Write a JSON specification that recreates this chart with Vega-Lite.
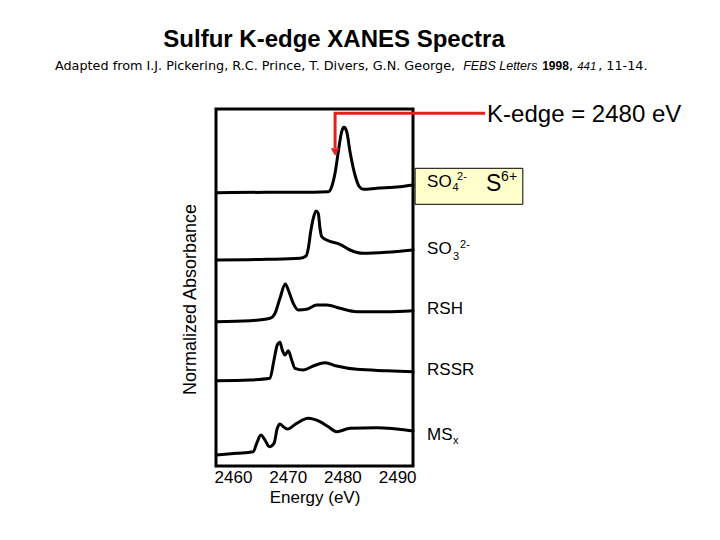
{
  "$schema": "https://vega.github.io/schema/vega-lite/v6.json",
  "width": 197,
  "height": 357,
  "autosize": {"type": "none"},
  "padding": {"left": 216, "top": 109, "right": 307, "bottom": 74},
  "background": "white",
  "config": {
    "font": "Liberation Sans",
    "view": {"stroke": "black", "strokeWidth": 3},
    "text": {"font": "Liberation Sans", "color": "black"}
  },
  "datasets": {
    "spectra": [
      {"s": "SO4", "E": 2456.95, "A": 5.486}, {"s": "SO4", "E": 2466.16, "A": 5.494}, {"s": "SO4", "E": 2472.25, "A": 5.494}, {"s": "SO4", "E": 2477.42, "A": 5.506}, {"s": "SO4", "E": 2478.04, "A": 5.606}, {"s": "SO4", "E": 2478.65, "A": 5.874}, {"s": "SO4", "E": 2479.25, "A": 6.306}, {"s": "SO4", "E": 2479.87, "A": 6.706}, {"s": "SO4", "E": 2480.29, "A": 6.794}, {"s": "SO4", "E": 2480.79, "A": 6.706}, {"s": "SO4", "E": 2481.39, "A": 6.306}, {"s": "SO4", "E": 2482.3, "A": 5.84}, {"s": "SO4", "E": 2483.09, "A": 5.606}, {"s": "SO4", "E": 2483.82, "A": 5.554}, {"s": "SO4", "E": 2486.27, "A": 5.574}, {"s": "SO4", "E": 2490.53, "A": 5.606}, {"s": "SO4", "E": 2492.9, "A": 5.64},
      {"s": "SO3", "E": 2456.95, "A": 4.14}, {"s": "SO3", "E": 2466.16, "A": 4.154}, {"s": "SO3", "E": 2472.25, "A": 4.174}, {"s": "SO3", "E": 2473.35, "A": 4.22}, {"s": "SO3", "E": 2473.77, "A": 4.374}, {"s": "SO3", "E": 2474.2, "A": 4.706}, {"s": "SO3", "E": 2474.68, "A": 4.974}, {"s": "SO3", "E": 2475.17, "A": 5.12}, {"s": "SO3", "E": 2475.59, "A": 5.074}, {"s": "SO3", "E": 2475.9, "A": 4.774}, {"s": "SO3", "E": 2476.22, "A": 4.606}, {"s": "SO3", "E": 2477.13, "A": 4.54}, {"s": "SO3", "E": 2479.56, "A": 4.454}, {"s": "SO3", "E": 2481.39, "A": 4.34}, {"s": "SO3", "E": 2483.82, "A": 4.274}, {"s": "SO3", "E": 2488.1, "A": 4.294}, {"s": "SO3", "E": 2492.9, "A": 4.34},
      {"s": "RSH", "E": 2456.95, "A": 2.906}, {"s": "RSH", "E": 2463.11, "A": 2.926}, {"s": "RSH", "E": 2466.76, "A": 2.974}, {"s": "RSH", "E": 2467.68, "A": 3.074}, {"s": "RSH", "E": 2468.59, "A": 3.374}, {"s": "RSH", "E": 2469.56, "A": 3.66}, {"s": "RSH", "E": 2470.11, "A": 3.54}, {"s": "RSH", "E": 2471.02, "A": 3.274}, {"s": "RSH", "E": 2471.94, "A": 3.14}, {"s": "RSH", "E": 2473.47, "A": 3.154}, {"s": "RSH", "E": 2475.3, "A": 3.24}, {"s": "RSH", "E": 2477.13, "A": 3.24}, {"s": "RSH", "E": 2479.56, "A": 3.174}, {"s": "RSH", "E": 2482.61, "A": 3.106}, {"s": "RSH", "E": 2488.1, "A": 3.106}, {"s": "RSH", "E": 2492.9, "A": 3.126},
      {"s": "RSSR", "E": 2456.95, "A": 1.726}, {"s": "RSSR", "E": 2463.11, "A": 1.74}, {"s": "RSSR", "E": 2466.76, "A": 1.774}, {"s": "RSSR", "E": 2467.5, "A": 2.14}, {"s": "RSSR", "E": 2468.1, "A": 2.44}, {"s": "RSSR", "E": 2468.59, "A": 2.494}, {"s": "RSSR", "E": 2469.01, "A": 2.34}, {"s": "RSSR", "E": 2469.51, "A": 2.24}, {"s": "RSSR", "E": 2470.11, "A": 2.326}, {"s": "RSSR", "E": 2470.73, "A": 2.14}, {"s": "RSSR", "E": 2471.33, "A": 1.974}, {"s": "RSSR", "E": 2472.85, "A": 1.94}, {"s": "RSSR", "E": 2474.68, "A": 2.02}, {"s": "RSSR", "E": 2476.82, "A": 2.086}, {"s": "RSSR", "E": 2478.96, "A": 2.02}, {"s": "RSSR", "E": 2482.61, "A": 1.954}, {"s": "RSSR", "E": 2488.1, "A": 1.926}, {"s": "RSSR", "E": 2492.9, "A": 1.906},
      {"s": "MSx", "E": 2456.95, "A": 0.24}, {"s": "MSx", "E": 2460.68, "A": 0.274}, {"s": "MSx", "E": 2463.71, "A": 0.306}, {"s": "MSx", "E": 2464.33, "A": 0.474}, {"s": "MSx", "E": 2465.12, "A": 0.64}, {"s": "MSx", "E": 2465.85, "A": 0.54}, {"s": "MSx", "E": 2466.64, "A": 0.406}, {"s": "MSx", "E": 2467.5, "A": 0.474}, {"s": "MSx", "E": 2468.1, "A": 0.774}, {"s": "MSx", "E": 2468.59, "A": 0.86}, {"s": "MSx", "E": 2469.2, "A": 0.806}, {"s": "MSx", "E": 2469.93, "A": 0.76}, {"s": "MSx", "E": 2471.65, "A": 0.874}, {"s": "MSx", "E": 2473.77, "A": 0.974}, {"s": "MSx", "E": 2475.9, "A": 0.906}, {"s": "MSx", "E": 2477.42, "A": 0.806}, {"s": "MSx", "E": 2478.96, "A": 0.706}, {"s": "MSx", "E": 2481.39, "A": 0.774}, {"s": "MSx", "E": 2486.27, "A": 0.786}, {"s": "MSx", "E": 2492.9, "A": 0.72}
    ],
    "box": [{"E": 2493.28, "E2": 2512.97, "A": 5.974, "A2": 5.254}],
    "arrow": [{"i": 0, "E": 2506.08, "A": 7.074}, {"i": 1, "E": 2478.66, "A": 7.074}, {"i": 2, "E": 2478.66, "A": 6.38}],
    "arrowhead": [{"E": 2478.66, "A": 6.3}],
    "title": [{"t": "Sulfur K-edge XANES Spectra", "E": 2478.47, "A": 8.406}],
    "subNormal": [
      {"t": "Adapted from I.J. Pickering, R.C. Prince, T. Divers, G.N. George,", "E": 2427.47, "A": 7.94},
      {"t": ",", "E": 2521.43, "A": 7.94},
      {"t": ", 11-14.", "E": 2526.74, "A": 7.94}
    ],
    "subItalic": [
      {"t": "FEBS Letters", "E": 2502.06, "A": 7.94}
    ],
    "subItalicNum": [
      {"t": "441", "E": 2522.9, "A": 7.94}
    ],
    "subBold": [{"t": "1998", "E": 2516.5, "A": 7.94}],
    "labels": [
      {"t": "SO", "E": 2495.47, "A": 5.7},
      {"t": "SO", "E": 2495.47, "A": 4.36},
      {"t": "RSH", "E": 2495.47, "A": 3.16},
      {"t": "RSSR", "E": 2495.47, "A": 1.95},
      {"t": "MS", "E": 2495.47, "A": 0.65}
    ],
    "scripts": [
      {"t": "4", "E": 2500.14, "A": 5.58},
      {"t": "2-", "E": 2500.96, "A": 5.806},
      {"t": "3", "E": 2500.23, "A": 4.2},
      {"t": "2-", "E": 2501.51, "A": 4.44},
      {"t": "x", "E": 2500.23, "A": 0.52}
    ],
    "bigS": [{"t": "S", "E": 2506.26, "A": 5.66}],
    "ox": [{"t": "6+", "E": 2509.0, "A": 5.806}],
    "kedge": [{"t": "K-edge = 2480 eV", "E": 2506.44, "A": 7.04}]
  },
  "layer": [
    {
      "data": {"name": "box"},
      "mark": {"type": "rect", "fill": "#ffffcc", "stroke": "black", "strokeWidth": 1},
      "encoding": {
        "x": {"field": "E", "type": "quantitative"},
        "x2": {"field": "E2"},
        "y": {"field": "A", "type": "quantitative"},
        "y2": {"field": "A2"}
      }
    },
    {
      "data": {"name": "spectra"},
      "mark": {"type": "line", "color": "black", "strokeWidth": 3, "interpolate": "monotone", "strokeCap": "round", "strokeJoin": "round"},
      "encoding": {
        "x": {
          "field": "E", "type": "quantitative",
          "scale": {"domain": [2456.9, 2492.9], "nice": false, "zero": false},
          "axis": {
            "title": "Energy (eV)", "values": [2460, 2470, 2480, 2490], "format": "d", "ticks": false, "domain": false, "grid": false,
            "labelFontSize": 17, "labelColor": "black", "labelPadding": 3, "labelFlush": false,
            "titleFontSize": 17, "titleFontWeight": "normal", "titleColor": "black", "titlePadding": 4
          }
        },
        "y": {
          "field": "A", "type": "quantitative",
          "scale": {"domain": [0.02, 7.16], "nice": false, "zero": false},
          "axis": {
            "title": "Normalized Absorbance", "labels": false, "ticks": false, "domain": false, "grid": false,
            "titleFontSize": 18, "titleFontWeight": "normal", "titleColor": "black", "titlePadding": 17, "titleY": 190
          }
        },
        "detail": {"field": "s"}
      }
    },
    {
      "data": {"name": "arrow"},
      "mark": {"type": "line", "color": "#e3211c", "strokeWidth": 3},
      "encoding": {
        "x": {"field": "E", "type": "quantitative"},
        "y": {"field": "A", "type": "quantitative"},
        "order": {"field": "i"}
      }
    },
    {
      "data": {"name": "arrowhead"},
      "mark": {"type": "point", "shape": "triangle-down", "filled": true, "color": "#e3211c", "size": 75, "opacity": 1},
      "encoding": {
        "x": {"field": "E", "type": "quantitative"},
        "y": {"field": "A", "type": "quantitative"}
      }
    },
    {
      "data": {"name": "title"},
      "mark": {"type": "text", "fontSize": 24, "fontWeight": "bold", "align": "center", "baseline": "alphabetic"},
      "encoding": {"x": {"field": "E", "type": "quantitative"}, "y": {"field": "A", "type": "quantitative"}, "text": {"field": "t"}}
    },
    {
      "data": {"name": "subNormal"},
      "mark": {"type": "text", "font": "DejaVu Sans", "fontSize": 12.8, "align": "left", "baseline": "alphabetic"},
      "encoding": {"x": {"field": "E", "type": "quantitative"}, "y": {"field": "A", "type": "quantitative"}, "text": {"field": "t"}}
    },
    {
      "data": {"name": "subItalic"},
      "mark": {"type": "text", "fontSize": 12.5, "fontStyle": "italic", "align": "left", "baseline": "alphabetic"},
      "encoding": {"x": {"field": "E", "type": "quantitative"}, "y": {"field": "A", "type": "quantitative"}, "text": {"field": "t"}}
    },
    {
      "data": {"name": "subItalicNum"},
      "mark": {"type": "text", "fontSize": 11.5, "fontStyle": "italic", "align": "left", "baseline": "alphabetic"},
      "encoding": {"x": {"field": "E", "type": "quantitative"}, "y": {"field": "A", "type": "quantitative"}, "text": {"field": "t"}}
    },
    {
      "data": {"name": "subBold"},
      "mark": {"type": "text", "fontSize": 12, "fontWeight": "bold", "align": "left", "baseline": "alphabetic"},
      "encoding": {"x": {"field": "E", "type": "quantitative"}, "y": {"field": "A", "type": "quantitative"}, "text": {"field": "t"}}
    },
    {
      "data": {"name": "labels"},
      "mark": {"type": "text", "fontSize": 17, "align": "left", "baseline": "middle"},
      "encoding": {"x": {"field": "E", "type": "quantitative"}, "y": {"field": "A", "type": "quantitative"}, "text": {"field": "t"}}
    },
    {
      "data": {"name": "scripts"},
      "mark": {"type": "text", "fontSize": 11, "align": "left", "baseline": "middle"},
      "encoding": {"x": {"field": "E", "type": "quantitative"}, "y": {"field": "A", "type": "quantitative"}, "text": {"field": "t"}}
    },
    {
      "data": {"name": "bigS"},
      "mark": {"type": "text", "fontSize": 23, "align": "left", "baseline": "middle"},
      "encoding": {"x": {"field": "E", "type": "quantitative"}, "y": {"field": "A", "type": "quantitative"}, "text": {"field": "t"}}
    },
    {
      "data": {"name": "ox"},
      "mark": {"type": "text", "fontSize": 14, "align": "left", "baseline": "middle"},
      "encoding": {"x": {"field": "E", "type": "quantitative"}, "y": {"field": "A", "type": "quantitative"}, "text": {"field": "t"}}
    },
    {
      "data": {"name": "kedge"},
      "mark": {"type": "text", "fontSize": 24, "align": "left", "baseline": "middle"},
      "encoding": {"x": {"field": "E", "type": "quantitative"}, "y": {"field": "A", "type": "quantitative"}, "text": {"field": "t"}}
    }
  ]
}
